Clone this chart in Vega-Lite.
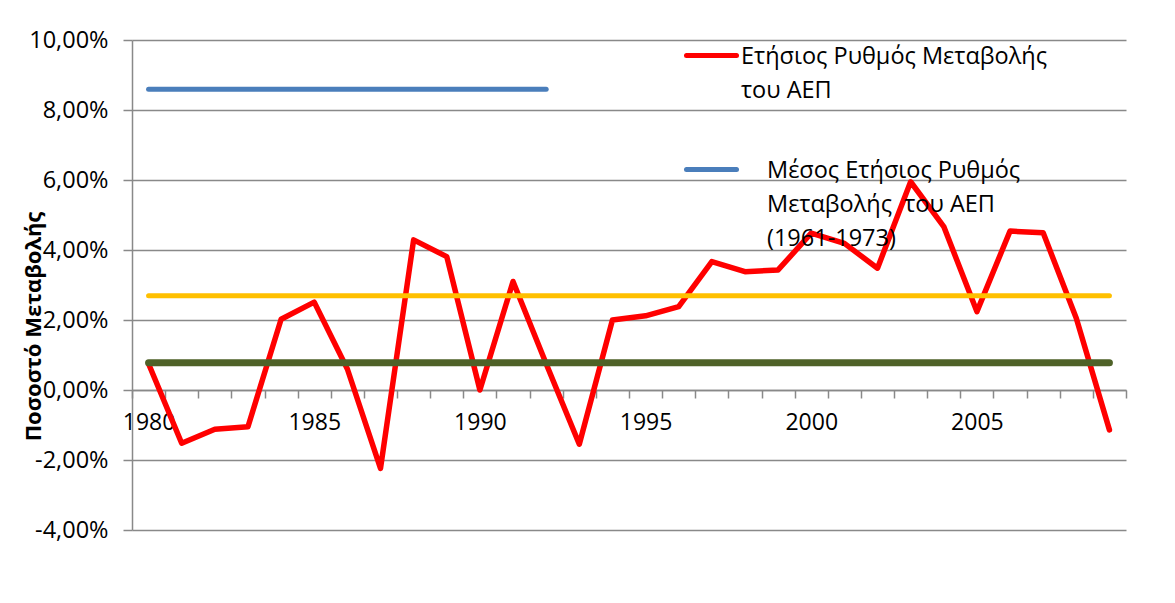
{
  "$schema": "https://vega.github.io/schema/vega-lite/v6.json",
  "width": 994,
  "height": 490,
  "autosize": {"type": "none"},
  "padding": {"left": 132, "top": 40, "right": 49, "bottom": 73},
  "background": "white",
  "config": {
    "view": {"stroke": null},
    "font": "Open Sans",
    "style": {"guide-label": {"lineHeight": 34}}
  },
  "datasets": {
    "gdp": [
      {"year": 1980, "series": "A", "value": 0.75},
      {"year": 1981, "series": "A", "value": -1.52},
      {"year": 1982, "series": "A", "value": -1.12},
      {"year": 1983, "series": "A", "value": -1.05},
      {"year": 1984, "series": "A", "value": 2.02},
      {"year": 1985, "series": "A", "value": 2.51},
      {"year": 1986, "series": "A", "value": 0.6},
      {"year": 1987, "series": "A", "value": -2.24},
      {"year": 1988, "series": "A", "value": 4.29},
      {"year": 1989, "series": "A", "value": 3.81},
      {"year": 1990, "series": "A", "value": 0.0},
      {"year": 1991, "series": "A", "value": 3.1},
      {"year": 1992, "series": "A", "value": 0.75},
      {"year": 1993, "series": "A", "value": -1.55},
      {"year": 1994, "series": "A", "value": 2.0},
      {"year": 1995, "series": "A", "value": 2.12},
      {"year": 1996, "series": "A", "value": 2.38},
      {"year": 1997, "series": "A", "value": 3.67},
      {"year": 1998, "series": "A", "value": 3.38},
      {"year": 1999, "series": "A", "value": 3.43},
      {"year": 2000, "series": "A", "value": 4.48},
      {"year": 2001, "series": "A", "value": 4.19},
      {"year": 2002, "series": "A", "value": 3.48},
      {"year": 2003, "series": "A", "value": 5.95},
      {"year": 2004, "series": "A", "value": 4.67},
      {"year": 2005, "series": "A", "value": 2.24},
      {"year": 2006, "series": "A", "value": 4.54},
      {"year": 2007, "series": "A", "value": 4.49},
      {"year": 2008, "series": "A", "value": 2.05},
      {"year": 2009, "series": "A", "value": -1.14},
      {"year": 1980, "series": "B", "value": 8.59},
      {"year": 1981, "series": "B", "value": 8.59},
      {"year": 1982, "series": "B", "value": 8.59},
      {"year": 1983, "series": "B", "value": 8.59},
      {"year": 1984, "series": "B", "value": 8.59},
      {"year": 1985, "series": "B", "value": 8.59},
      {"year": 1986, "series": "B", "value": 8.59},
      {"year": 1987, "series": "B", "value": 8.59},
      {"year": 1988, "series": "B", "value": 8.59},
      {"year": 1989, "series": "B", "value": 8.59},
      {"year": 1990, "series": "B", "value": 8.59},
      {"year": 1991, "series": "B", "value": 8.59},
      {"year": 1992, "series": "B", "value": 8.59},
      {"year": 1980, "series": "C", "value": 2.69},
      {"year": 1981, "series": "C", "value": 2.69},
      {"year": 1982, "series": "C", "value": 2.69},
      {"year": 1983, "series": "C", "value": 2.69},
      {"year": 1984, "series": "C", "value": 2.69},
      {"year": 1985, "series": "C", "value": 2.69},
      {"year": 1986, "series": "C", "value": 2.69},
      {"year": 1987, "series": "C", "value": 2.69},
      {"year": 1988, "series": "C", "value": 2.69},
      {"year": 1989, "series": "C", "value": 2.69},
      {"year": 1990, "series": "C", "value": 2.69},
      {"year": 1991, "series": "C", "value": 2.69},
      {"year": 1992, "series": "C", "value": 2.69},
      {"year": 1993, "series": "C", "value": 2.69},
      {"year": 1994, "series": "C", "value": 2.69},
      {"year": 1995, "series": "C", "value": 2.69},
      {"year": 1996, "series": "C", "value": 2.69},
      {"year": 1997, "series": "C", "value": 2.69},
      {"year": 1998, "series": "C", "value": 2.69},
      {"year": 1999, "series": "C", "value": 2.69},
      {"year": 2000, "series": "C", "value": 2.69},
      {"year": 2001, "series": "C", "value": 2.69},
      {"year": 2002, "series": "C", "value": 2.69},
      {"year": 2003, "series": "C", "value": 2.69},
      {"year": 2004, "series": "C", "value": 2.69},
      {"year": 2005, "series": "C", "value": 2.69},
      {"year": 2006, "series": "C", "value": 2.69},
      {"year": 2007, "series": "C", "value": 2.69},
      {"year": 2008, "series": "C", "value": 2.69},
      {"year": 2009, "series": "C", "value": 2.69},
      {"year": 1980, "series": "D", "value": 0.78},
      {"year": 1981, "series": "D", "value": 0.78},
      {"year": 1982, "series": "D", "value": 0.78},
      {"year": 1983, "series": "D", "value": 0.78},
      {"year": 1984, "series": "D", "value": 0.78},
      {"year": 1985, "series": "D", "value": 0.78},
      {"year": 1986, "series": "D", "value": 0.78},
      {"year": 1987, "series": "D", "value": 0.78},
      {"year": 1988, "series": "D", "value": 0.78},
      {"year": 1989, "series": "D", "value": 0.78},
      {"year": 1990, "series": "D", "value": 0.78},
      {"year": 1991, "series": "D", "value": 0.78},
      {"year": 1992, "series": "D", "value": 0.78},
      {"year": 1993, "series": "D", "value": 0.78},
      {"year": 1994, "series": "D", "value": 0.78},
      {"year": 1995, "series": "D", "value": 0.78},
      {"year": 1996, "series": "D", "value": 0.78},
      {"year": 1997, "series": "D", "value": 0.78},
      {"year": 1998, "series": "D", "value": 0.78},
      {"year": 1999, "series": "D", "value": 0.78},
      {"year": 2000, "series": "D", "value": 0.78},
      {"year": 2001, "series": "D", "value": 0.78},
      {"year": 2002, "series": "D", "value": 0.78},
      {"year": 2003, "series": "D", "value": 0.78},
      {"year": 2004, "series": "D", "value": 0.78},
      {"year": 2005, "series": "D", "value": 0.78},
      {"year": 2006, "series": "D", "value": 0.78},
      {"year": 2007, "series": "D", "value": 0.78},
      {"year": 2008, "series": "D", "value": 0.78},
      {"year": 2009, "series": "D", "value": 0.78}
    ],
    "names": [
      {"series": "A", "name": "Ετήσιος Ρυθμός Μεταβολής\nτου ΑΕΠ"},
      {"series": "B", "name": "Μέσος Ετήσιος Ρυθμός\nΜεταβολής \u00a0του ΑΕΠ\n(1961-1973)"},
      {"series": "C", "name": "Μέσος όρος (κίτρινη)"},
      {"series": "D", "name": "Μέσος όρος (πράσινη)"}
    ]
  },
  "data": {"name": "gdp"},
  "transform": [
    {"lookup": "series", "from": {"data": {"name": "names"}, "key": "series", "fields": ["name"]}}
  ],
  "encoding": {
    "x": {
      "field": "year",
      "type": "ordinal",
      "bandPosition": 0.5,
      "scale": {"type": "band", "paddingInner": 0, "paddingOuter": 0},
      "axis": {
        "title": null,
        "offset": -140,
        "tickBand": "extent",
        "tickSize": 8,
        "tickColor": "#898989",
        "tickWidth": 1.5,
        "domainColor": "#898989",
        "domainWidth": 1.5,
        "labelAngle": 0,
        "labelOverlap": false,
        "labelExpr": "datum.value % 5 == 0 ? datum.label : ''",
        "labelFontSize": 23,
        "labelColor": "black",
        "labelPadding": 13,
        "grid": false
      }
    },
    "y": {
      "field": "value",
      "type": "quantitative",
      "scale": {"domain": [-4, 10], "nice": false, "zero": false},
      "axis": {
        "values": [-4, -2, 0, 2, 4, 6, 8, 10],
        "labelExpr": "replace(replace(format(datum.value, '.2f'), '.', ','), '\u2212', '-') + '%'",
        "labelFontSize": 23.5,
        "labelColor": "black",
        "labelPadding": 15,
        "tickSize": 9,
        "tickColor": "#898989",
        "tickWidth": 1.5,
        "domainColor": "#898989",
        "domainWidth": 1.5,
        "gridColor": "#898989",
        "gridWidth": 1.5,
        "title": "Ποσοστό Μεταβολής",
        "titleFontSize": 22,
        "titleFontWeight": "bold",
        "titleColor": "black",
        "titleX": -99,
        "titleY": 286,
        "titleAngle": -90,
        "titleAlign": "center",
        "titleBaseline": "middle"
      }
    },
    "color": {
      "field": "name",
      "type": "nominal",
      "scale": {
        "domain": [
          "Ετήσιος Ρυθμός Μεταβολής\nτου ΑΕΠ",
          "Μέσος Ετήσιος Ρυθμός\nΜεταβολής \u00a0του ΑΕΠ\n(1961-1973)",
          "Μέσος όρος (κίτρινη)",
          "Μέσος όρος (πράσινη)"
        ],
        "range": ["#ff0000", "#4a7ebb", "#ffc000", "#4f6228"]
      },
      "legend": {
        "title": null,
        "orient": "none",
        "legendX": 552,
        "legendY": -12,
        "padding": 0,
        "values": [
          "Ετήσιος Ρυθμός Μεταβολής\nτου ΑΕΠ",
          "Μέσος Ετήσιος Ρυθμός\nΜεταβολής \u00a0του ΑΕΠ\n(1961-1973)"
        ],
        "symbolType": "stroke",
        "symbolSize": 2500,
        "symbolStrokeWidth": 5,
        "labelExpr": "split(datum.label, '\\n')",
        "labelFontSize": 23.5,
        "labelColor": "black",
        "labelLimit": 1000,
        "labelOffset": 2,
        "labelBaseline": "alphabetic",
        "rowPadding": 40,
        "encode": {
          "symbols": {"update": {"strokeCap": {"value": "round"}}},
          "labels": {"update": {"dx": {"signal": "datum.index == 1 ? 26 : 0"}, "dy": {"value": 8}}}
        }
      }
    }
  },
  "layer": [
    {"transform": [{"filter": "datum.series == 'A'"}], "mark": {"type": "line", "strokeWidth": 5.5, "strokeCap": "round", "strokeJoin": "round"}},
    {"transform": [{"filter": "datum.series == 'B'"}], "mark": {"type": "line", "strokeWidth": 5, "strokeCap": "round"}},
    {"transform": [{"filter": "datum.series == 'C'"}], "mark": {"type": "line", "strokeWidth": 5, "strokeCap": "round"}},
    {"transform": [{"filter": "datum.series == 'D'"}], "mark": {"type": "line", "strokeWidth": 7, "strokeCap": "round"}}
  ]
}
